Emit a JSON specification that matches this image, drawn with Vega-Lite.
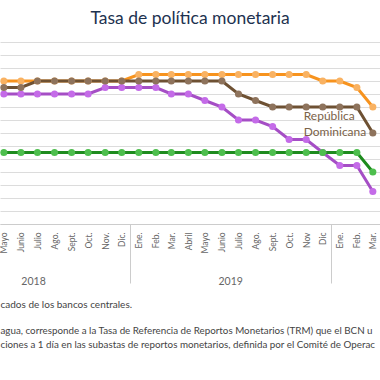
{
  "$schema": "https://vega.github.io/schema/vega-lite/v6.json",
  "width": 380,
  "height": 182,
  "autosize": "none",
  "padding": {"left": 0, "top": 42, "right": 0, "bottom": 156},
  "config": {"view": {"stroke": null}, "font": "Lato"},
  "title": {"text": "Tasa de política monetaria", "font": "Lato", "fontSize": 17.5, "fontWeight": "normal", "color": "#1d3250", "anchor": "middle", "offset": 15},
  "datasets": {
    "rates": [
      {"country": "Honduras", "date": "2018-05-01", "rate": 5.5},
      {"country": "Honduras", "date": "2018-06-01", "rate": 5.5},
      {"country": "Honduras", "date": "2018-07-01", "rate": 5.5},
      {"country": "Honduras", "date": "2018-08-01", "rate": 5.5},
      {"country": "Honduras", "date": "2018-09-01", "rate": 5.5},
      {"country": "Honduras", "date": "2018-10-01", "rate": 5.5},
      {"country": "Honduras", "date": "2018-11-01", "rate": 5.5},
      {"country": "Honduras", "date": "2018-12-01", "rate": 5.5},
      {"country": "Honduras", "date": "2019-01-01", "rate": 5.75},
      {"country": "Honduras", "date": "2019-02-01", "rate": 5.75},
      {"country": "Honduras", "date": "2019-03-01", "rate": 5.75},
      {"country": "Honduras", "date": "2019-04-01", "rate": 5.75},
      {"country": "Honduras", "date": "2019-05-01", "rate": 5.75},
      {"country": "Honduras", "date": "2019-06-01", "rate": 5.75},
      {"country": "Honduras", "date": "2019-07-01", "rate": 5.75},
      {"country": "Honduras", "date": "2019-08-01", "rate": 5.75},
      {"country": "Honduras", "date": "2019-09-01", "rate": 5.75},
      {"country": "Honduras", "date": "2019-10-01", "rate": 5.75},
      {"country": "Honduras", "date": "2019-11-01", "rate": 5.75},
      {"country": "Honduras", "date": "2019-12-01", "rate": 5.5},
      {"country": "Honduras", "date": "2020-01-01", "rate": 5.5},
      {"country": "Honduras", "date": "2020-02-01", "rate": 5.25},
      {"country": "Honduras", "date": "2020-03-01", "rate": 4.5},
      {"country": "Costa Rica", "date": "2018-05-01", "rate": 5.0},
      {"country": "Costa Rica", "date": "2018-06-01", "rate": 5.0},
      {"country": "Costa Rica", "date": "2018-07-01", "rate": 5.0},
      {"country": "Costa Rica", "date": "2018-08-01", "rate": 5.0},
      {"country": "Costa Rica", "date": "2018-09-01", "rate": 5.0},
      {"country": "Costa Rica", "date": "2018-10-01", "rate": 5.0},
      {"country": "Costa Rica", "date": "2018-11-01", "rate": 5.25},
      {"country": "Costa Rica", "date": "2018-12-01", "rate": 5.25},
      {"country": "Costa Rica", "date": "2019-01-01", "rate": 5.25},
      {"country": "Costa Rica", "date": "2019-02-01", "rate": 5.25},
      {"country": "Costa Rica", "date": "2019-03-01", "rate": 5.0},
      {"country": "Costa Rica", "date": "2019-04-01", "rate": 5.0},
      {"country": "Costa Rica", "date": "2019-05-01", "rate": 4.75},
      {"country": "Costa Rica", "date": "2019-06-01", "rate": 4.5},
      {"country": "Costa Rica", "date": "2019-07-01", "rate": 4.0},
      {"country": "Costa Rica", "date": "2019-08-01", "rate": 4.0},
      {"country": "Costa Rica", "date": "2019-09-01", "rate": 3.75},
      {"country": "Costa Rica", "date": "2019-10-01", "rate": 3.25},
      {"country": "Costa Rica", "date": "2019-11-01", "rate": 3.25},
      {"country": "Costa Rica", "date": "2019-12-01", "rate": 2.75},
      {"country": "Costa Rica", "date": "2020-01-01", "rate": 2.25},
      {"country": "Costa Rica", "date": "2020-02-01", "rate": 2.25},
      {"country": "Costa Rica", "date": "2020-03-01", "rate": 1.25},
      {"country": "Guatemala", "date": "2018-05-01", "rate": 2.75},
      {"country": "Guatemala", "date": "2018-06-01", "rate": 2.75},
      {"country": "Guatemala", "date": "2018-07-01", "rate": 2.75},
      {"country": "Guatemala", "date": "2018-08-01", "rate": 2.75},
      {"country": "Guatemala", "date": "2018-09-01", "rate": 2.75},
      {"country": "Guatemala", "date": "2018-10-01", "rate": 2.75},
      {"country": "Guatemala", "date": "2018-11-01", "rate": 2.75},
      {"country": "Guatemala", "date": "2018-12-01", "rate": 2.75},
      {"country": "Guatemala", "date": "2019-01-01", "rate": 2.75},
      {"country": "Guatemala", "date": "2019-02-01", "rate": 2.75},
      {"country": "Guatemala", "date": "2019-03-01", "rate": 2.75},
      {"country": "Guatemala", "date": "2019-04-01", "rate": 2.75},
      {"country": "Guatemala", "date": "2019-05-01", "rate": 2.75},
      {"country": "Guatemala", "date": "2019-06-01", "rate": 2.75},
      {"country": "Guatemala", "date": "2019-07-01", "rate": 2.75},
      {"country": "Guatemala", "date": "2019-08-01", "rate": 2.75},
      {"country": "Guatemala", "date": "2019-09-01", "rate": 2.75},
      {"country": "Guatemala", "date": "2019-10-01", "rate": 2.75},
      {"country": "Guatemala", "date": "2019-11-01", "rate": 2.75},
      {"country": "Guatemala", "date": "2019-12-01", "rate": 2.75},
      {"country": "Guatemala", "date": "2020-01-01", "rate": 2.75},
      {"country": "Guatemala", "date": "2020-02-01", "rate": 2.75},
      {"country": "Guatemala", "date": "2020-03-01", "rate": 2.0},
      {"country": "República Dominicana", "date": "2018-05-01", "rate": 5.25},
      {"country": "República Dominicana", "date": "2018-06-01", "rate": 5.25},
      {"country": "República Dominicana", "date": "2018-07-01", "rate": 5.5},
      {"country": "República Dominicana", "date": "2018-08-01", "rate": 5.5},
      {"country": "República Dominicana", "date": "2018-09-01", "rate": 5.5},
      {"country": "República Dominicana", "date": "2018-10-01", "rate": 5.5},
      {"country": "República Dominicana", "date": "2018-11-01", "rate": 5.5},
      {"country": "República Dominicana", "date": "2018-12-01", "rate": 5.5},
      {"country": "República Dominicana", "date": "2019-01-01", "rate": 5.5},
      {"country": "República Dominicana", "date": "2019-02-01", "rate": 5.5},
      {"country": "República Dominicana", "date": "2019-03-01", "rate": 5.5},
      {"country": "República Dominicana", "date": "2019-04-01", "rate": 5.5},
      {"country": "República Dominicana", "date": "2019-05-01", "rate": 5.5},
      {"country": "República Dominicana", "date": "2019-06-01", "rate": 5.5},
      {"country": "República Dominicana", "date": "2019-07-01", "rate": 5.0},
      {"country": "República Dominicana", "date": "2019-08-01", "rate": 4.75},
      {"country": "República Dominicana", "date": "2019-09-01", "rate": 4.5},
      {"country": "República Dominicana", "date": "2019-10-01", "rate": 4.5},
      {"country": "República Dominicana", "date": "2019-11-01", "rate": 4.5},
      {"country": "República Dominicana", "date": "2019-12-01", "rate": 4.5},
      {"country": "República Dominicana", "date": "2020-01-01", "rate": 4.5},
      {"country": "República Dominicana", "date": "2020-02-01", "rate": 4.5},
      {"country": "República Dominicana", "date": "2020-03-01", "rate": 3.5}
    ]
  },
  "layer": [
    {
      "data": {"name": "rates"},
      "mark": {"type": "line", "strokeWidth": 3},
      "encoding": {
        "x": {
          "field": "date", "type": "temporal",
          "scale": {"type": "utc", "domain": [{"year": 2018, "month": 4, "date": 24, "utc": true}, {"year": 2020, "month": 3, "date": 14, "utc": true}]},
          "axis": {
            "orient": "bottom", "tickCount": "month", "grid": false, "ticks": false,
            "labelAngle": -90, "labelPadding": 8, "labelFontSize": 8.5, "labelColor": "#666666", "labelFont": "Lato",
            "labelOverlap": false, "labelFlush": false, "labelBound": false,
            "domain": true, "domainColor": "#cccccc",
            "labelExpr": "(utcyear(datum.value) == 2019 && utcmonth(datum.value) == 10) ? 'Nov' : (utcyear(datum.value) == 2019 && utcmonth(datum.value) == 11) ? 'Dic' : ['Ene.','Feb.','Mar.','Abril','Mayo','Junio','Julio','Ago.','Sept.','Oct.','Nov.','Dic.'][utcmonth(datum.value)]",
            "title": null
          }
        },
        "y": {
          "field": "rate", "type": "quantitative",
          "scale": {"domain": [0, 7]},
          "axis": {"values": [0, 0.5, 1, 1.5, 2, 2.5, 3, 3.5, 4, 4.5, 5, 5.5, 6, 6.5, 7], "tickCount": 30, "grid": true, "gridColor": "#dcdcdc", "gridWidth": 1, "labels": false, "ticks": false, "domain": false, "title": null}
        },
        "color": {
          "field": "country", "type": "nominal",
          "scale": {"domain": ["Honduras", "Costa Rica", "Guatemala", "República Dominicana"], "range": ["#F7931E", "#A54EC5", "#1E8B1E", "#6E5133"]},
          "legend": null
        }
      }
    },
    {
      "data": {"name": "rates"},
      "mark": {"type": "circle", "size": 50, "opacity": 1},
      "encoding": {
        "x": {
          "field": "date", "type": "temporal",
          "axis": {
            "orient": "bottom", "values": [{"year": 2018, "month": 12, "date": 16, "utc": true}, {"year": 2019, "month": 12, "date": 16, "utc": true}],
            "grid": false, "labels": false, "domain": false, "ticks": true, "tickSize": 59, "tickColor": "#cccccc", "tickWidth": 1,
            "title": ["agua, corresponde a la Tasa de Referencia de Reportos Monetarios (TRM) que el BCN u", "ciones a 1 día en las subastas de reportos monetarios, definida por el Comité de Operac"],
            "titleAnchor": "start", "titleAlign": "left", "titleFont": "Lato", "titleFontSize": 9.8, "titleFontWeight": "normal", "titleColor": "#444444", "titlePadding": 42, "titleLineHeight": 13.7
          }
        },
        "y": {"field": "rate", "type": "quantitative"},
        "fill": {
          "field": "country", "type": "nominal",
          "scale": {"domain": ["Honduras", "Costa Rica", "Guatemala", "República Dominicana"], "range": ["#F9B262", "#C46BE8", "#4DBE4D", "#8E735C"]},
          "legend": null
        }
      }
    },
    {
      "data": {"values": [{"country": "República Dominicana", "date": "2019-11-01", "rate": 4.5}]},
      "mark": {"type": "text", "text": ["República", "Dominicana"], "align": "left", "baseline": "alphabetic", "dx": -2.5, "dy": 13, "font": "Lato", "fontSize": 12, "lineHeight": 15.5, "color": "#7a6248"},
      "encoding": {
        "x": {
          "field": "date", "type": "temporal",
          "axis": {
            "orient": "bottom", "values": [{"year": 2018, "month": 6, "date": 23, "utc": true}, {"year": 2019, "month": 6, "date": 16, "utc": true}],
            "grid": false, "ticks": false, "domain": false, "labelExpr": "utcFormat(datum.value, '%Y')",
            "labelPadding": 52, "labelFontSize": 10.5, "labelColor": "#666666", "labelFont": "Lato", "labelFlush": false, "labelOverlap": false,
            "title": "cados de los bancos centrales.",
            "titleAnchor": "start", "titleAlign": "left", "titleFont": "Lato", "titleFontSize": 10, "titleFontWeight": "normal", "titleColor": "#444444", "titlePadding": 13
          }
        },
        "y": {"field": "rate", "type": "quantitative"}
      }
    }
  ],
  "resolve": {"axis": {"x": "independent"}}
}
